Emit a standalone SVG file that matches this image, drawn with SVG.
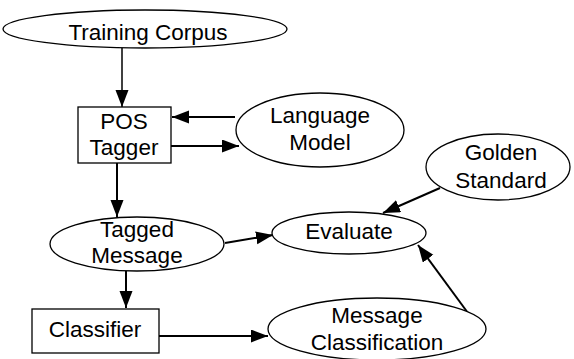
<svg xmlns="http://www.w3.org/2000/svg" width="574" height="359" viewBox="0 0 574 359">
<style>
.n{fill:#fff;stroke:#000;stroke-width:1.3}
.t{font-family:"Liberation Sans",Arial,sans-serif;font-size:22.5px;fill:#000;text-anchor:middle}
.e{stroke:#000;stroke-width:2;fill:none;marker-end:url(#a)}
</style>
<defs>
<marker id="a" markerUnits="userSpaceOnUse" markerWidth="18" markerHeight="14" refX="17" refY="6.5" orient="auto">
<path d="M0,0 L17,6.5 L0,13 Z" fill="#000"/>
</marker>
</defs>
<rect width="574" height="359" fill="#fff"/>
<g id="edges">
<line class="e" style="stroke-width:1.5" x1="122" y1="48" x2="122" y2="107"/>
<line class="e" x1="235" y1="117" x2="172" y2="117"/>
<line class="e" x1="171" y1="146" x2="239" y2="146"/>
<line class="e" x1="117" y1="163" x2="117" y2="217"/>
<line class="e" x1="225" y1="243" x2="273" y2="235"/>
<line class="e" x1="440" y1="188" x2="383" y2="213"/>
<line class="e" x1="126" y1="271" x2="126" y2="308"/>
<line class="e" x1="159" y1="336" x2="268" y2="336"/>
<line class="e" x1="468" y1="313" x2="418" y2="245"/>
</g>
<g id="training-corpus">
<ellipse class="n" cx="145" cy="29" rx="142" ry="19"/>
<text class="t" x="148" y="40">Training Corpus</text>
</g>
<g id="pos-tagger">
<rect class="n" x="78" y="107" width="93" height="56"/>
<text class="t" x="124" y="129">POS</text>
<text class="t" x="124" y="155">Tagger</text>
</g>
<g id="language-model">
<ellipse class="n" cx="320" cy="130" rx="84" ry="37"/>
<text class="t" x="320" y="123">Language</text>
<text class="t" x="320" y="150">Model</text>
</g>
<g id="golden-standard">
<ellipse class="n" cx="498" cy="167" rx="72" ry="33"/>
<text class="t" x="501" y="160">Golden</text>
<text class="t" x="501" y="188">Standard</text>
</g>
<g id="tagged-message">
<ellipse class="n" cx="137" cy="244" rx="87" ry="27"/>
<text class="t" x="137" y="237">Tagged</text>
<text class="t" x="137" y="263">Message</text>
</g>
<g id="evaluate">
<ellipse class="n" cx="349" cy="233" rx="77" ry="21"/>
<text class="t" x="349" y="239">Evaluate</text>
</g>
<g id="classifier">
<rect class="n" x="32" y="309" width="127" height="44"/>
<text class="t" x="95" y="337">Classifier</text>
</g>
<g id="message-classification">
<ellipse class="n" cx="377" cy="329" rx="109" ry="31"/>
<text class="t" x="377" y="323">Message</text>
<text class="t" x="377" y="350">Classification</text>
</g>
</svg>
